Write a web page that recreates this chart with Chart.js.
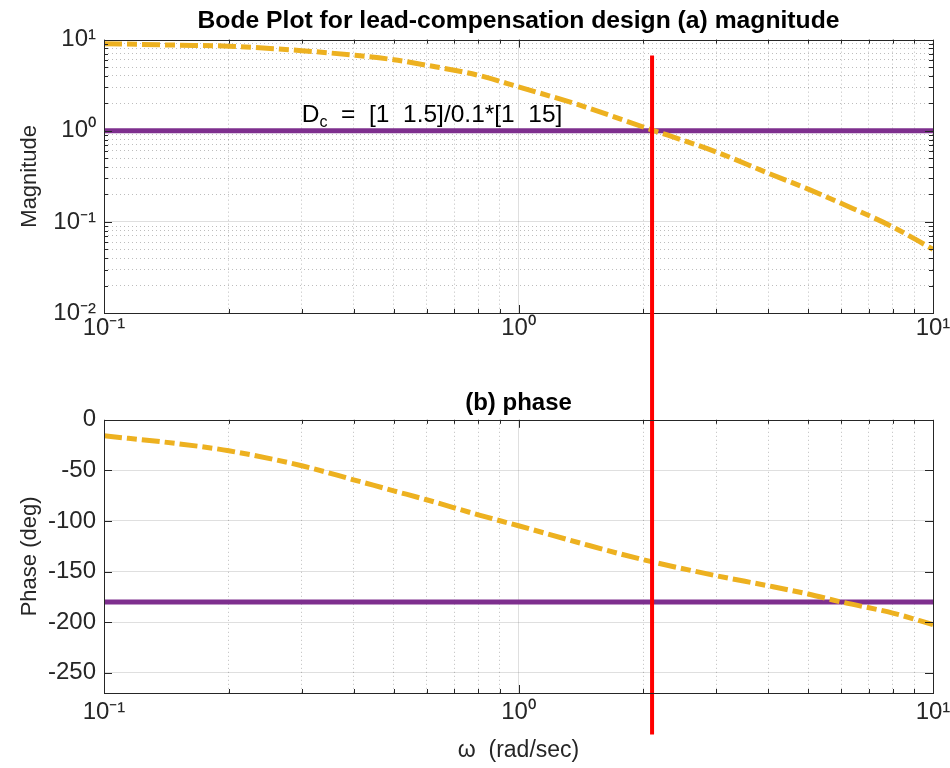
<!DOCTYPE html>
<html>
<head>
<meta charset="utf-8">
<script src="https://cdn.jsdelivr.net/npm/chart.js@4/dist/chart.umd.min.js"></script>
<style>
  body { margin: 0; background: #fff; }
  #wrap { position: relative; width: 950px; height: 768px; }
  canvas { position: absolute; left: 0; top: 0; }
</style>
</head>
<body>
<div id="wrap">
  <canvas id="magChart" width="950" height="345"></canvas>
  <canvas id="phaseChart" width="950" height="768"></canvas>
</div>
<script>
// frequency samples (rad/sec)
let omega = [0.1, 0.15, 0.2, 0.3, 0.4, 0.5, 0.6, 0.8, 1.0, 1.4, 2.0, 3.0, 4.0, 5.0, 6.0, 8.0, 10];
let magnitude = [9.04, 8.7, 8.47, 7.57, 6.75, 6.02, 5.24, 4.06, 3.03, 1.92, 1.10, 0.585, 0.343, 0.229, 0.160, 0.088, 0.050];
let phase = [-15.8, -23.5, -30.6, -45.4, -59.3, -70.2, -79.0, -93.9, -104.7, -121.5, -138.3, -154.1, -164.0, -172.2, -180.0, -191.0, -202.5];

// reference levels and crossover marker
let magRef = 1;
let phaseRef = -180;
let crossover = 2.1;
let markerSpan = [360, -311];   // red marker runs past both axes (phase units)

// tick positions and labels
let freqTicks = [0.1, 0.2, 0.3, 0.4, 0.5, 0.6, 0.7, 0.8, 0.9, 1, 2, 3, 4, 5, 6, 7, 8, 9, 10];
let magTicks = [0.01, 0.02, 0.03, 0.04, 0.05, 0.06, 0.07, 0.08, 0.09, 0.1, 0.2, 0.3, 0.4, 0.5, 0.6, 0.7, 0.8, 0.9, 1, 2, 3, 4, 5, 6, 7, 8, 9, 10];
let decadeLabels = { 0.01: '10\u207B\u00B2', 0.1: '10\u207B\u00B9', 1: '10\u2070', 10: '10\u00B9' };
let phaseTicks = [-250, -200, -150, -100, -50, 0];

let FONT = "'Liberation Sans', Arial, Helvetica, sans-serif";
let INK = '#262626';
let ORANGE = '#EDB120';
let PURPLE = '#7E2F8E';
let DASH = [18, 5, 10, 5];

function isDecade(v) {
    return decadeLabels[v] !== undefined;
}

function setTicks(list) {
    return function (scale) {
        scale.ticks = list.map(v => ({ value: v, major: isDecade(v) }));
    };
}

function gridColor(edgeA, edgeB, logMajor) {
    return function (ctx) {
        let v = ctx.tick ? ctx.tick.value : null;
        if (v === edgeA || v === edgeB) return 'rgba(0,0,0,0)';
        if (logMajor && !isDecade(v)) return 'rgba(38,38,38,0.30)';
        return 'rgba(38,38,38,0.15)';
    };
}

function gridDash(ctx) {
    let v = ctx.tick ? ctx.tick.value : null;
    return isDecade(v) ? [] : [1, 3];
}

// keep the plot box where it is, labels may hang over the edge
function fixX(h) {
    return function (s) {
        s.height = h;
        s.paddingLeft = 0;
        s.paddingRight = 0;
    };
}

// MATLAB-like box with inward tick marks
let boxPlugin = {
    id: 'box',
    afterDraw(chart) {
        let ctx = chart.ctx;
        let a = chart.chartArea;
        ctx.save();
        ctx.strokeStyle = INK;
        ctx.lineWidth = 1;
        ctx.beginPath();
        chart.scales.x.ticks.forEach(t => {
            let px = Math.round(chart.scales.x.getPixelForValue(t.value)) + 0.5;
            let len = isDecade(t.value) ? 8 : 4;
            ctx.moveTo(px, a.bottom); ctx.lineTo(px, a.bottom - len);
            ctx.moveTo(px, a.top); ctx.lineTo(px, a.top + len);
        });
        let ys = chart.scales.y;
        ys.ticks.forEach(t => {
            let py = Math.round(ys.getPixelForValue(t.value)) + 0.5;
            let len = (ys.type === 'linear' || isDecade(t.value)) ? 8 : 4;
            ctx.moveTo(a.left, py); ctx.lineTo(a.left + len, py);
            ctx.moveTo(a.right, py); ctx.lineTo(a.right - len, py);
        });
        ctx.stroke();
        ctx.strokeRect(Math.round(a.left) + 0.5, Math.round(a.top) + 0.5,
            Math.round(a.right - a.left), Math.round(a.bottom - a.top));
        ctx.restore();
    }
};

// compensator label on the magnitude plot
let labelPlugin = {
    id: 'dcLabel',
    afterDatasetsDraw(chart) {
        let ctx = chart.ctx;
        let x = chart.scales.x.getPixelForValue(0.3);
        let y = chart.scales.y.getPixelForValue(1.25);
        ctx.save();
        ctx.fillStyle = '#000';
        ctx.textBaseline = 'alphabetic';
        ctx.font = '24.5px ' + FONT;
        ctx.fillText('D', x, y);
        let w = ctx.measureText('D').width;
        ctx.font = '16px ' + FONT;
        ctx.fillText('c', x + w, y + 5);
        let w2 = ctx.measureText('c').width;
        ctx.font = '24.5px ' + FONT;
        ctx.fillText('  =  [1  1.5]/0.1*[1  15]', x + w + w2, y);
        ctx.restore();
    }
};

let tickFont = { family: FONT, size: 24 };
let titleFont = { family: FONT, size: 24.7, weight: 'bold' };
let axisTitleFont = { family: FONT, size: 22 };

let magData = omega.map((w, i) => ({ x: w, y: magnitude[i] }));
let phaseData = omega.map((w, i) => ({ x: w, y: phase[i] }));

let chart1 = new Chart(document.getElementById('magChart').getContext('2d'), {
    type: 'line',
    data: {
        datasets: [
            {
                data: magData,
                borderColor: ORANGE,
                borderWidth: 5,
                borderDash: DASH,
                cubicInterpolationMode: 'monotone',
                pointRadius: 0,
                order: 1
            },
            {
                data: [{ x: 0.1, y: magRef }, { x: 10, y: magRef }],
                borderColor: PURPLE,
                borderWidth: 5,
                pointRadius: 0,
                order: 2
            }
        ]
    },
    options: {
        responsive: false,
        animation: false,
        layout: { padding: { top: 0, right: 17, bottom: 0, left: 0 } },
        plugins: {
            legend: { display: false },
            tooltip: { enabled: false },
            title: {
                display: true,
                fullSize: false,
                text: 'Bode Plot for lead-compensation design (a) magnitude',
                color: '#000',
                font: titleFont,
                padding: { top: 6, bottom: 4 }
            }
        },
        scales: {
            x: {
                type: 'logarithmic',
                min: 0.1,
                max: 10,
                afterBuildTicks: setTicks(freqTicks),
                afterFit: fixX(32),
                ticks: {
                    autoSkip: false,
                    maxRotation: 0,
                    color: INK,
                    font: tickFont,
                    padding: 1,
                    callback: v => decadeLabels[v] || ''
                },
                grid: { drawTicks: false, color: gridColor(0.1, 10, true) },
                border: { display: false, dash: gridDash }
            },
            y: {
                type: 'logarithmic',
                min: 0.01,
                max: 10,
                afterBuildTicks: setTicks(magTicks),
                afterFit: s => { s.width = 104; },
                ticks: {
                    autoSkip: false,
                    color: INK,
                    font: tickFont,
                    padding: 8,
                    callback: v => decadeLabels[v] || ''
                },
                grid: { drawTicks: false, color: gridColor(0.01, 10, true) },
                border: { display: false, dash: gridDash },
                title: {
                    display: true,
                    text: 'Magnitude',
                    color: INK,
                    font: axisTitleFont,
                    padding: { top: 17, bottom: 0 }
                }
            }
        }
    },
    plugins: [boxPlugin, labelPlugin]
});

let chart2 = new Chart(document.getElementById('phaseChart').getContext('2d'), {
    type: 'line',
    data: {
        datasets: [
            {
                data: [{ x: crossover, y: markerSpan[0] }, { x: crossover, y: markerSpan[1] }],
                borderColor: '#FF0000',
                borderWidth: 4,
                pointRadius: 0,
                clip: false,
                order: 0
            },
            {
                data: phaseData,
                borderColor: ORANGE,
                borderWidth: 5,
                borderDash: DASH,
                cubicInterpolationMode: 'monotone',
                pointRadius: 0,
                order: 1
            },
            {
                data: [{ x: 0.1, y: phaseRef }, { x: 10, y: phaseRef }],
                borderColor: PURPLE,
                borderWidth: 5,
                pointRadius: 0,
                order: 2
            }
        ]
    },
    options: {
        responsive: false,
        animation: false,
        layout: { padding: { top: 384, right: 17, bottom: 0, left: 0 } },
        plugins: {
            legend: { display: false },
            tooltip: { enabled: false },
            title: {
                display: true,
                fullSize: false,
                text: '(b) phase',
                color: '#000',
                font: { family: FONT, size: 24, weight: 'bold' },
                padding: { top: 5, bottom: 2 }
            }
        },
        scales: {
            x: {
                type: 'logarithmic',
                min: 0.1,
                max: 10,
                afterBuildTicks: setTicks(freqTicks),
                afterFit: fixX(75),
                ticks: {
                    autoSkip: false,
                    maxRotation: 0,
                    color: INK,
                    font: tickFont,
                    padding: 5,
                    callback: v => decadeLabels[v] || ''
                },
                grid: { drawTicks: false, color: gridColor(0.1, 10, true) },
                border: { display: false, dash: gridDash },
                title: {
                    display: true,
                    text: '\u03C9  (rad/sec)',
                    color: INK,
                    font: { family: FONT, size: 23 },
                    padding: { top: 0, bottom: 4 }
                }
            },
            y: {
                type: 'linear',
                min: -270,
                max: 0,
                afterBuildTicks: s => { s.ticks = phaseTicks.map(v => ({ value: v })); },
                afterFit: s => { s.width = 104; },
                ticks: {
                    autoSkip: false,
                    color: INK,
                    font: tickFont,
                    padding: 8
                },
                grid: { drawTicks: false, color: gridColor(-270, 0, false) },
                border: { display: false },
                title: {
                    display: true,
                    text: 'Phase (deg)',
                    color: INK,
                    font: axisTitleFont,
                    padding: { top: 17, bottom: 0 }
                }
            }
        }
    },
    plugins: [boxPlugin]
});
</script>
</body>
</html>
